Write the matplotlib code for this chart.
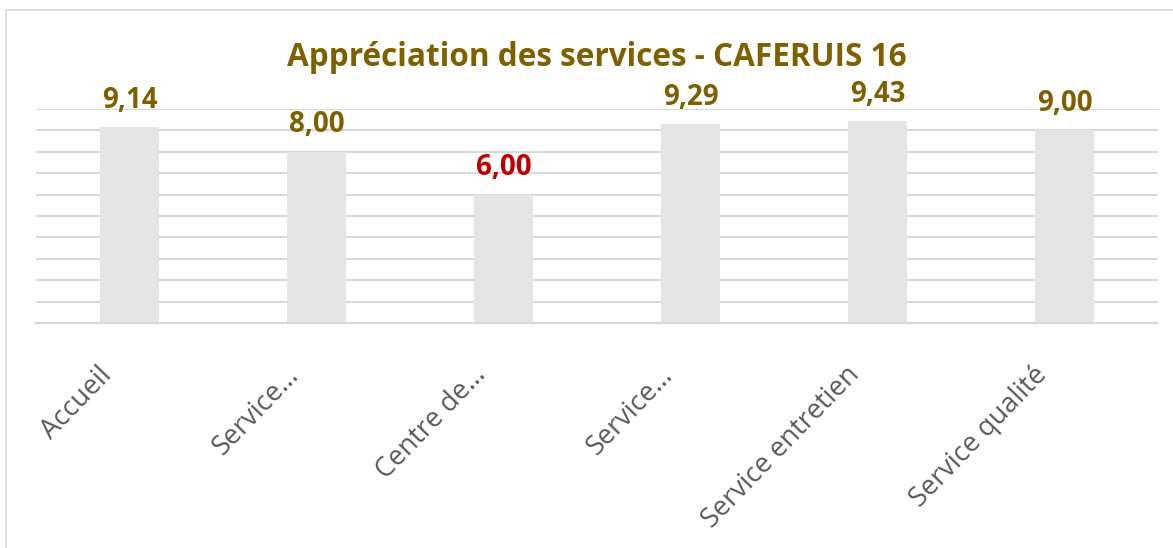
import matplotlib
matplotlib.use("Agg")
import matplotlib.pyplot as plt
from matplotlib.patches import Rectangle
from matplotlib.transforms import ScaledTranslation

categories = ["Accueil", "Service…", "Centre de…", "Service…", "Service entretien", "Service qualité"]
values = [9.14, 8.00, 6.00, 9.29, 9.43, 9.00]
value_labels = ["9,14", "8,00", "6,00", "9,29", "9,43", "9,00"]
label_colors = ["#7f6000", "#7f6000", "#c00000", "#7f6000", "#7f6000", "#7f6000"]

title_color = "#7f6000"
bar_color = "#e5e5e5"
grid_color = "#d9d9d9"

plt.rcParams['font.family'] = ['Open Sans', 'DejaVu Sans']

fig = plt.figure(figsize=(11.73, 5.48), dpi=100)
# chart border
fig.patches.append(Rectangle((6 / 1173, -0.1), 1.2, 1 - 10 / 548 + 0.1, transform=fig.transFigure,
                             fill=False, edgecolor="#d9d9d9", lw=1.2))

ax = fig.add_axes([36 / 1173, 1 - 323 / 548, (1158 - 36) / 1173, (323 - 109) / 548])
x = list(range(len(categories)))
ax.bar(x, values, width=0.32, color=bar_color, zorder=2)
ax.set_xlim(-0.5, len(categories) - 0.5)
ax.set_ylim(0, 10)
ax.set_yticks(range(0, 11))
ax.yaxis.grid(True, color=grid_color, lw=1.5, zorder=0)
ax.tick_params(axis="y", left=False, labelleft=False)
ax.tick_params(axis="x", bottom=False, pad=31)
for s in ["top", "right", "left"]:
    ax.spines[s].set_visible(False)
ax.spines["bottom"].set_color(grid_color)
ax.spines["bottom"].set_linewidth(1.5)

ax.set_xticks(x)
ax.set_xticklabels(categories, rotation=46, ha="right", va="center", rotation_mode="anchor",
                   fontsize=19.5, color="#595959")
shift = ScaledTranslation(-22 / 100, 0, fig.dpi_scale_trans)
for lbl in ax.get_xticklabels():
    lbl.set_transform(lbl.get_transform() + shift)

for xi, v, lab, c in zip(x, values, value_labels, label_colors):
    ax.annotate(lab, (xi, v), xytext=(0, 9), textcoords="offset points",
                ha="center", va="bottom", fontsize=20, fontweight="bold", color=c)

ax.set_title("Appréciation des services - CAFERUIS 16", fontsize=22.7, fontweight="bold",
             color=title_color, pad=31)

fig.savefig("out.png", dpi=100)
